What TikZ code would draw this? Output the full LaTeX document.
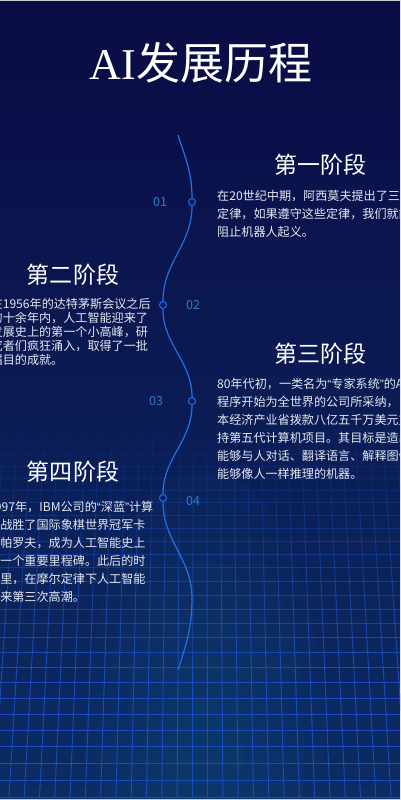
\documentclass[tikz,border=0pt]{standalone}
\usepackage{fontspec}
\setmainfont{Noto Sans CJK SC}
\newfontfamily\titleserif{Liberation Serif}
\newfontfamily\quotefont{Liberation Sans}
\newcommand\qopen{{\quotefont “}}
\newcommand\qclose{{\quotefont ”}}
\usepackage{tikz}
\usetikzlibrary{positioning}
\definecolor{navytop}{RGB}{10,11,68}
\definecolor{navymid}{RGB}{11,28,88}
\definecolor{navybot}{RGB}{12,44,100}
\definecolor{glow}{RGB}{18,72,118}
\definecolor{gridblue}{RGB}{28,82,204}
\definecolor{wave}{RGB}{32,112,232}
\definecolor{numblue}{RGB}{48,122,204}
\definecolor{bodytxt}{RGB}{228,232,242}
\definecolor{edgegrey}{RGB}{200,202,210}
\tikzset{
  stagehead/.style={text=white,font=\fontsize{23}{26}\selectfont,inner sep=0pt},
  stagetxt/.style={text=bodytxt,font=\fontsize{12.1}{18}\selectfont,align=left,
                   inner sep=0pt,anchor=north west},
  stagetxtc/.style={stagetxt,font=\fontsize{12.1}{14}\selectfont},
  numlbl/.style={text=numblue,font=\fontsize{12.5}{14}\selectfont,inner sep=0pt},
  stagedot/.style={circle,draw=wave,fill=navymid,line width=1pt,minimum size=7pt,inner sep=0pt},
  gridln/.style={draw=gridblue,line width=0.9pt},
  waveln/.style={draw=wave,line width=1.2pt},
}

\begin{document}
\begin{tikzpicture}[x=1pt,y=-1pt]
  \useasboundingbox (0,0) rectangle (400,800);
  \clip (0,0) rectangle (400,800);

  % background and floor grid
  \shade[top color=navytop,middle color=navymid,bottom color=navybot] (0,0) rectangle (400,800);
  \foreach \r in {1,...,6}
    \fill[glow,opacity=0.1] (205,740) ellipse ({20*\r} and {45*\r});
  \foreach \gy [remember=\gy as \gyp (initially 430)] in
      {442,454,466,478,490,502,515,528,541,554,567,581,595,609,623,637,
       652,667,682,698,714,730,746,763,780,797} {
    \pgfmathsetmacro\op{min(0.85,(\gy-425)/290)}
    \draw[gridln,opacity=\op] (0,\gy) -- (400,\gy);
    \foreach \k in {-16,...,15} {
      \pgfmathsetmacro\xa{200+(\k+0.5)*(13.5+1.8*(\gyp-430)/370)}
      \pgfmathsetmacro\xb{200+(\k+0.5)*(13.5+1.8*(\gy-430)/370)}
      \draw[gridln,opacity=\op] (\xa,\gyp) -- (\xb,\gy);
    }
  }
  \fill[edgegrey] (0,0) rectangle (400,1.5);
  \fill[edgegrey] (0,798.5) rectangle (400,800);

  \node[text=white,font=\fontsize{44}{48}\selectfont,inner sep=0pt] (title) at (201,63)
    {{\titleserif AI}发展历程};

  % timeline
  \coordinate (top)   at (178,135);
  \node[stagedot] (dot1) at (192,202) {};
  \node[stagedot] (dot2) at (163,305) {};
  \node[stagedot] (dot3) at (192,401) {};
  \node[stagedot] (dot4) at (163,498) {};
  \coordinate (crest) at (192,598);
  \coordinate (tail)  at (178,670);
  \draw[waveln] (top) to[out=-72,in=90] (dot1) to[out=-90,in=90] (dot2)
    to[out=-90,in=90] (dot3) to[out=-90,in=90] (dot4)
    to[out=-90,in=90] (crest) to[out=-90,in=72] (tail);

  \node[numlbl] (n1) at (160,202) {01};
  \node[numlbl] (n2) at (193,305) {02};
  \node[numlbl] (n3) at (156,401) {03};
  \node[numlbl] (n4) at (193,501) {04};

  % stages
  \node[stagehead] (h1) at (320,165) {第一阶段};
  \node[stagetxt] (t1) at (217,190)
    {在20世纪中期，阿西莫夫提出了三大\\定律，如果遵守这些定律，我们就能\\阻止机器人起义。};

  \node[stagehead] (h2) at (73,275) {第二阶段};
  \node[stagetxtc] (t2) at (-9.5,298)
    {在1956年的达特茅斯会议之后\\的十余年内，人工智能迎来了\\发展史上的第一个小高峰，研\\究者们疯狂涌入，取得了一批\\瞩目的成就。};

  \node[stagehead] (h3) at (320,354) {第三阶段};
  \node[stagetxt] (t3) at (217,378)
    {80年代初，一类名为\qopen 专家系统\qclose 的AI\\程序开始为全世界的公司所采纳，日\\本经济产业省拨款八亿五千万美元支\\持第五代计算机项目。其目标是造出\\能够与人对话、翻译语言、解释图像，\\能够像人一样推理的机器。};

  \node[stagehead] (h4) at (73,472) {第四阶段};
  \node[stagetxt] (t4) at (-12,501)
    {1997年，IBM公司的\qopen 深蓝\qclose 计算\\机战胜了国际象棋世界冠军卡\\斯帕罗夫，成为人工智能史上\\的一个重要里程碑。此后的时\\间里，在摩尔定律下人工智能\\迎来第三次高潮。};
\end{tikzpicture}
\end{document}
